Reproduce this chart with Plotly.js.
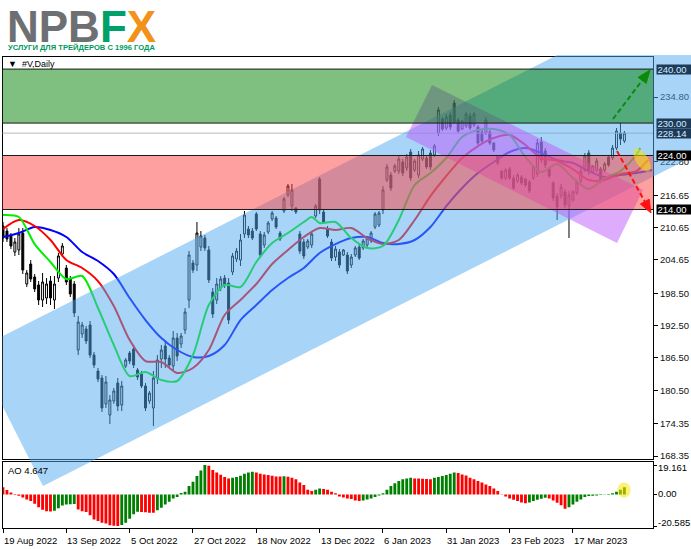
<!DOCTYPE html>
<html><head><meta charset="utf-8">
<script src="https://cdn.plot.ly/plotly-3.0.1.min.js"></script>
<style>html,body{margin:0;padding:0;background:#fff}</style>
</head><body><div id="chart" style="width:691px;height:549px"></div>
<script>
const W = 691, H = 549;

// ---- data ----
const tickIdx = [0, 16, 32, 48, 64, 80, 96, 112, 128, 144];
const tickLabels = ['19 Aug 2022','13 Sep 2022','5 Oct 2022','27 Oct 2022','18 Nov 2022','13 Dec 2022','6 Jan 2023','31 Jan 2023','23 Feb 2023','17 Mar 2023'];

const open = [210.94,210.01,209.09,206.13,206.50,209.64,200.20,203.90,201.50,200.02,197.24,197.61,200.75,197.24,201.31,205.76,203.16,201.13,200.20,187.98,
190.94,191.87,192.61,187.05,184.09,182.79,177.98,175.94,178.53,181.87,177.79,185.02,187.42,188.16,184.28,183.53,181.31,178.53,177.24,182.79,
186.31,188.72,186.50,185.02,190.20,189.09,191.68,197.24,204.09,203.72,207.05,208.72,206.50,198.72,197.24,199.46,201.31,200.38,202.42,204.83,
204.64,209.46,210.38,210.01,213.16,209.46,207.42,209.83,212.24,212.42,209.64,213.72,216.68,214.64,214.27,209.46,207.98,207.05,207.42,212.79,
219.64,213.53,210.38,207.98,205.20,206.13,205.57,205.57,203.72,205.57,207.05,206.87,207.42,208.16,210.75,211.12,213.90,219.46,220.38,221.12,
221.12,222.79,221.68,224.64,221.31,220.38,223.35,223.53,224.46,224.09,228.16,230.75,229.09,231.49,233.71,230.57,228.90,229.46,231.31,229.64,
229.27,228.35,228.16,228.35,226.31,223.90,221.12,219.83,221.49,219.83,219.27,220.01,219.64,219.09,219.83,220.57,226.49,224.83,221.49,218.90,
216.49,216.49,217.24,214.64,215.75,217.05,219.27,221.31,224.46,220.94,221.31,221.49,221.31,223.72,223.53,225.38,228.16,226.68];
const high = [211.68,210.57,209.64,208.72,210.57,210.57,202.79,204.64,202.05,200.75,202.24,201.31,201.68,201.68,205.94,207.79,203.72,201.68,200.75,194.27,
193.16,192.42,193.35,187.61,184.65,183.35,183.16,179.65,180.94,182.79,182.24,186.50,187.79,188.91,184.65,184.09,181.87,180.38,184.09,187.05,
188.91,189.65,187.05,191.50,191.13,191.13,195.75,206.31,204.64,211.68,210.01,209.27,207.24,199.46,201.31,201.68,201.87,201.31,205.94,206.87,
209.46,213.72,210.94,210.57,213.53,210.01,209.83,211.87,213.72,212.79,210.01,216.31,218.72,218.72,214.46,210.01,208.53,208.53,210.01,215.01,
220.01,214.09,210.94,208.53,207.24,206.68,206.68,206.13,205.76,207.24,207.61,208.53,209.09,210.01,213.53,213.72,218.35,222.42,220.94,222.42,
223.90,223.35,224.27,225.20,223.35,224.83,225.57,223.90,225.01,226.12,232.97,231.12,231.68,232.05,234.27,230.94,230.57,232.05,231.86,232.05,
229.64,228.72,231.12,228.72,226.49,224.09,221.31,221.68,221.87,220.38,220.75,220.38,219.83,219.46,222.23,227.05,227.42,225.38,221.87,219.27,
217.05,218.72,217.79,217.42,217.61,219.46,221.68,224.46,225.01,222.23,223.53,221.87,222.79,224.09,225.94,229.09,230.01,228.53];
const low = [207.98,207.98,206.68,205.39,205.57,202.05,199.65,200.57,198.72,196.31,195.94,196.50,196.31,195.57,200.57,205.20,200.02,197.79,194.09,187.05,
190.20,189.09,186.50,184.65,182.05,176.50,177.24,174.27,178.01,176.68,176.68,184.65,185.39,184.65,182.42,180.94,176.68,178.01,173.90,181.68,
184.65,184.65,184.65,184.09,185.94,188.35,190.94,195.75,202.24,202.61,206.31,206.31,200.38,193.90,196.50,198.90,199.46,192.79,201.87,204.27,
203.53,208.72,208.72,208.35,210.01,205.01,206.87,209.46,211.87,210.38,208.16,213.35,216.31,213.72,213.16,205.76,204.83,206.68,206.87,212.42,
213.16,211.31,208.72,204.46,204.46,203.16,205.39,202.05,203.16,205.20,204.64,206.50,207.05,207.79,210.38,210.75,213.16,219.09,217.42,220.75,
220.57,220.20,221.12,219.27,220.94,219.83,222.98,221.49,221.31,223.72,227.61,228.53,228.72,228.72,229.83,228.16,228.72,229.09,228.72,229.27,
225.94,226.31,227.79,225.94,224.64,222.23,219.46,219.46,219.46,217.61,218.90,218.53,218.16,217.05,219.46,220.01,222.61,221.68,219.83,215.57,
212.05,215.94,214.27,208.72,215.38,216.68,218.90,220.94,220.38,220.75,220.94,218.90,220.94,221.87,223.16,225.01,225.94,226.31];
const close = [208.72,208.54,207.24,207.98,209.46,202.79,202.24,201.13,199.28,197.24,200.57,200.20,197.61,200.20,205.39,207.24,200.57,198.35,194.83,193.16,
192.61,189.65,187.05,185.20,182.61,177.24,182.05,178.72,180.38,177.61,181.31,186.13,185.94,185.20,182.98,181.31,177.24,180.01,182.79,186.13,
187.98,186.31,185.20,190.20,186.87,190.57,195.01,205.57,202.79,209.64,209.09,206.87,200.94,194.64,200.20,201.13,200.02,193.53,205.39,206.31,
208.35,212.98,209.27,208.72,210.38,205.57,209.27,211.49,213.35,210.75,208.53,215.94,218.35,217.61,213.53,206.31,205.39,208.16,209.46,214.64,
213.90,211.68,209.09,205.01,206.68,203.72,206.50,202.61,205.20,206.87,205.01,208.16,208.72,209.64,213.16,213.35,217.61,221.87,217.98,222.05,
223.35,220.75,223.72,219.83,222.98,224.09,225.20,221.87,221.87,225.75,232.42,228.90,231.12,229.27,230.20,228.53,230.38,231.68,229.09,231.68,
226.31,226.68,230.57,226.31,225.01,222.61,219.83,221.31,219.83,217.98,220.38,218.90,218.53,217.42,221.87,226.31,223.16,222.23,220.20,216.12,
214.46,218.16,214.83,216.68,217.24,219.09,221.12,223.90,221.12,222.05,222.98,219.46,222.42,222.23,225.38,228.53,227.05,228.14];

// Alligator lines (bar index, price)
const jawIdx = [0,4,8,12,16,20,24,28,32,36,40,44,48,52,56,60,64,68,72,76,80,84,88,92,96,100,104,108,112,116,120,124,128,132,136,140,144,148,152,156,160,164];
const jawVal = [208.90,209.64,210.75,210.20,208.90,206.12,204.46,202.05,197.61,193.53,190.20,187.98,186.68,186.87,188.90,193.53,196.31,199.09,201.31,203.16,205.94,207.60,208.72,208.90,207.79,207.60,208.35,210.75,214.64,217.98,220.75,222.79,224.64,225.38,224.46,223.16,222.61,221.12,220.01,220.38,220.75,221.31];
const teethIdx = [0,4,8,12,16,20,24,28,32,36,40,44,48,52,56,60,64,68,72,76,80,84,88,92,96,100,104,108,112,116,120,124,128,132,136,140,144,148,152,156,160,163];
const teethVal = [210.38,212.05,210.94,208.35,204.64,203.16,200.75,196.12,189.83,185.94,185.76,183.72,184.65,187.98,194.46,197.24,200.20,203.90,206.50,208.90,210.57,210.20,210.57,208.72,207.60,208.35,212.05,216.49,220.20,223.53,225.75,227.23,227.79,225.94,223.53,222.98,221.49,219.46,219.46,220.57,221.12,223.16];
const lipsIdx = [0,4,8,12,16,20,24,28,32,36,40,44,48,52,56,60,64,68,72,76,78,80,84,88,92,96,100,104,108,112,116,120,124,128,132,136,140,144,148,152,156,160,161];
const lipsVal = [212.98,212.61,207.60,204.27,201.12,201.68,195.75,188.90,183.16,183.90,182.42,182.24,187.05,196.31,200.02,199.64,204.27,207.79,209.64,211.68,212.61,211.49,211.68,208.72,206.87,207.24,212.05,218.53,220.75,223.53,227.42,228.72,228.90,227.79,223.72,220.94,222.42,219.83,217.79,219.83,221.12,224.09,225.38];

// Awesome Oscillator
const ao = [4.6,2.8,1.3,0.2,-0.9,-2.0,-3.3,-4.3,-6.1,-8.3,-10.0,-10.9,-11.1,-10.7,-9.1,-7.2,-6.5,-6.4,-6.3,-9.8,
-10.9,-11.5,-13.5,-16.3,-17.4,-18.5,-18.9,-20.1,-20.4,-20.585,-20.0,-18.5,-15.9,-13.0,-11.3,-11.4,-11.6,-11.9,-12.0,-10.4,
-8.7,-6.5,-4.8,-2.6,-1.7,0.9,1.7,5.4,8.3,12.0,15.5,19.161,18.6,15.9,14.3,12.8,11.3,10.3,10.8,11.3,
12.1,13.4,14.3,14.8,14.3,13.5,13.0,12.6,12.2,11.7,11.6,11.9,11.5,10.9,9.8,7.8,6.1,3.0,2.2,3.0,
3.9,3.5,3.0,1.7,0.7,-1.3,-2.0,-2.6,-3.0,-3.9,-4.3,-3.9,-3.3,-2.6,-1.7,-0.7,0.7,3.0,5.4,7.2,
8.7,9.8,10.4,10.9,10.4,10.3,10.2,10.0,9.8,10.9,11.3,12.0,12.6,13.5,14.3,13.9,13.0,12.4,10.9,9.8,
8.7,7.8,6.5,5.4,3.9,2.2,-0.2,-1.3,-2.6,-3.5,-4.3,-5.2,-5.7,-5.2,-4.3,-3.5,-2.8,-2.2,-2.6,-3.9,
-5.4,-7.0,-9.3,-8.3,-6.5,-4.8,-3.3,-1.7,-1.1,-0.9,-0.7,-0.4,-0.2,0.2,0.7,1.7,3.0,4.647];
const aoLabels = [19.161, 0.00, -20.585];

const priceTicks = [168.35,174.35,180.50,186.50,192.50,198.50,204.65,210.65,216.65,222.80,234.80];
const zoneGreen = [230.00, 240.00];
const zoneRed = [214.00, 224.00];
const lastPrice = 228.14;

// ---- geometry (pixels) ----
const P = {L: 2.5, R: 653, MT: 57, MB: 459, AT: 462, AB: 528};
const fx = px => px / W, fy = py => 1 - py / H;
const barPx = 3.958, bar0 = 3;          // bar spacing / first bar position
const pxPerUnit = 5.4, refPrice = 168.35, refY = 456;
const priceAt = y => refPrice + (refY - y) / pxPerUnit;
const aoTop = 21.116, aoBot = -21.888;

const FONT = 'Liberation Sans, Arial, sans-serif';
const idx = open.map((_, i) => i);
const aoColors = ao.map((v, i) => (i > 0 && v > ao[i - 1]) ? '#008000' : '#ff0000');

const traces = [
  {type: 'candlestick', x: idx, open, high, low, close, xaxis: 'x', yaxis: 'y',
   increasing: {line: {color: '#000', width: 1}, fillcolor: '#ffffff'},
   decreasing: {line: {color: '#000', width: 1}, fillcolor: '#000000'},
   whiskerwidth: 0, hoverinfo: 'skip'},
  {type: 'scatter', mode: 'lines', x: jawIdx, y: jawVal, xaxis: 'x', yaxis: 'y',
   line: {color: '#0000ff', width: 2, shape: 'spline', smoothing: 0.8}, hoverinfo: 'skip'},
  {type: 'scatter', mode: 'lines', x: teethIdx, y: teethVal, xaxis: 'x', yaxis: 'y',
   line: {color: '#ff0000', width: 2, shape: 'spline', smoothing: 0.8}, hoverinfo: 'skip'},
  {type: 'scatter', mode: 'lines', x: lipsIdx, y: lipsVal, xaxis: 'x', yaxis: 'y',
   line: {color: '#00ee00', width: 2, shape: 'spline', smoothing: 0.8}, hoverinfo: 'skip'},
  {type: 'bar', x: idx, y: ao, xaxis: 'x2', yaxis: 'y2', width: 0.72,
   marker: {color: aoColors, line: {width: 0}}, hoverinfo: 'skip'}
];

// ---- overlay helpers ----
function poly(pts) { return pts.map((p, k) => (k ? 'L' : 'M') + fx(p[0]) + ',' + fy(p[1])).join('') + 'Z'; }
function ellipse(cx, cy, rx, ry, ang) {
  const a = ang * Math.PI / 180, pts = [];
  for (let k = 0; k < 40; k++) {
    const t = k / 40 * 2 * Math.PI;
    pts.push([cx + rx * Math.cos(t) * Math.cos(a) - ry * Math.sin(t) * Math.sin(a),
              cy + rx * Math.cos(t) * Math.sin(a) + ry * Math.sin(t) * Math.cos(a)]);
  }
  return poly(pts);
}
function arrow(x0, y0, x1, y1, color) {
  const dx = x1 - x0, dy = y1 - y0, L = Math.hypot(dx, dy), ux = dx / L, uy = dy / L, hl = 13, hw = 5;
  const bx = x1 - ux * hl, by = y1 - uy * hl;
  return [
    {type: 'line', xref: 'paper', yref: 'paper', x0: fx(x0), y0: fy(y0), x1: fx(bx), y1: fy(by),
     line: {color, width: 2, dash: '5px,3px'}},
    {type: 'path', xref: 'paper', yref: 'paper', fillcolor: color, line: {color, width: 1},
     path: poly([[x1, y1], [bx - uy * hw, by + ux * hw], [bx + uy * hw, by - ux * hw]])}
  ];
}
const up = x => 336 - 0.507 * (x - 3);
const lo = x => 486 - 0.507 * (x - 43);
const capY = x => 486 - (43 - x) / 0.507;

const hline = (v, color) => ({type: 'line', xref: 'x domain', yref: 'y', x0: 0, x1: 1, y0: v, y1: v, line: {color, width: 1}});

const shapes = [
  hline(lastPrice, '#b8b8b8'),
  {type: 'path', xref: 'paper', yref: 'paper', fillcolor: 'rgb(80,170,240)', opacity: 0.5, line: {width: 0},
   path: poly([[P.L, up(P.L)], [3 + (336 - 55) / 0.507, 55], [W, 55], [W, lo(W)], [43, 486], [P.L, capY(P.L)]])},
  {type: 'path', xref: 'paper', yref: 'paper', fillcolor: 'rgb(190,90,250)', opacity: 0.5, line: {width: 0},
   path: poly([[432, 85], [643, 190], [617, 243], [406, 137]])},
  {type: 'rect', xref: 'x domain', yref: 'y', x0: 0, x1: 1, y0: zoneGreen[0], y1: zoneGreen[1],
   fillcolor: 'rgb(0,128,0)', opacity: 0.5, line: {width: 0}},
  {type: 'rect', xref: 'x domain', yref: 'y', x0: 0, x1: 1, y0: zoneRed[0], y1: zoneRed[1],
   fillcolor: 'rgb(255,65,65)', opacity: 0.5, line: {width: 0}},
  hline(zoneGreen[1], '#1a1a1a'), hline(zoneGreen[0], '#1a1a1a'),
  hline(zoneRed[1], '#1a1a1a'), hline(zoneRed[0], '#1a1a1a'),
  {type: 'path', xref: 'paper', yref: 'paper', fillcolor: 'rgb(255,225,0)', opacity: 0.55, line: {width: 0},
   path: ellipse(642, 160, 13, 6, 58)},
  {type: 'path', xref: 'paper', yref: 'paper', fillcolor: 'rgb(255,225,0)', opacity: 0.55, line: {width: 0},
   path: ellipse(624, 490, 6.5, 7.5, 0)},
  ...arrow(613, 119, 650, 70, '#0a8a0a'),
  ...arrow(617, 151, 651, 213, '#ff1010')
];

// ---- annotations ----
const ann = [];
ann.push({xref: 'paper', yref: 'paper', x: fx(5), y: fy(26), xanchor: 'left', yanchor: 'middle', showarrow: false,
  text: '<b><span style="color:#6e6f72">NPB</span><span style="color:#00a06a">F</span><span style="color:#f39219">X</span></b>',
  font: {family: FONT, size: 44}});
ann.push({xref: 'paper', yref: 'paper', x: fx(6), y: fy(47.5), xanchor: 'left', yanchor: 'middle', showarrow: false,
  text: '<b>УСЛУГИ ДЛЯ ТРЕЙДЕРОВ С 1996 ГОДА</b>',
  font: {family: FONT, size: 7.6, color: '#00995c'}});
ann.push({xref: 'paper', yref: 'paper', x: fx(6), y: fy(64), xanchor: 'left', yanchor: 'middle', showarrow: false,
  text: '▼  #V,Daily', font: {family: FONT, size: 9, color: '#000'}});
ann.push({xref: 'paper', yref: 'paper', x: fx(6), y: fy(470), xanchor: 'left', yanchor: 'middle', showarrow: false,
  text: 'AO 4.647', font: {family: FONT, size: 9.5, color: '#000'}});
tickIdx.forEach((t, k) => ann.push({xref: 'x2', yref: 'paper', x: t, y: fy(540), xanchor: 'left', yanchor: 'middle',
  showarrow: false, xshift: -1, text: tickLabels[k], font: {family: FONT, size: 9.5, color: '#000'}}));
const aoLabelY = [468, 493.5, 522];
aoLabels.forEach((v, k) => ann.push({xref: 'paper', yref: 'paper', x: fx(656), y: fy(aoLabelY[k]), xanchor: 'left', yanchor: 'middle',
  showarrow: false, text: v === 0 ? '0.00' : String(v), font: {family: FONT, size: 9.5, color: '#000'}}));
const boxes = [[240.00, '#1d3b58', '#d6eaff'], [230.00, '#1d3b58', '#d6eaff'], [lastPrice, '#1d3b58', '#d6eaff'],
               [224.00, '#000000', '#ffffff'], [214.00, '#000000', '#ffffff']];
boxes.forEach(b => ann.push({xref: 'paper', yref: 'y', x: fx(655.5), y: b[0], xanchor: 'left', yanchor: 'middle',
  showarrow: false, text: b[0].toFixed(2), bgcolor: b[1], width: 33, height: 8, align: 'left', borderpad: 0.5,
  font: {family: FONT, size: 9.5, color: b[2]}}));

const layout = {
  width: W, height: H, margin: {l: 0, r: 0, t: 0, b: 0},
  paper_bgcolor: '#fff', plot_bgcolor: '#fff', showlegend: false, hovermode: false, dragmode: false,
  xaxis: {domain: [fx(P.L), fx(P.R)], range: [(P.L - bar0) / barPx, (P.R - bar0) / barPx], anchor: 'y',
    rangeslider: {visible: false}, showgrid: false, zeroline: false, showticklabels: false, ticks: '',
    showline: true, mirror: true, linecolor: '#000', linewidth: 1},
  yaxis: {domain: [fy(P.MB), fy(P.MT)], range: [priceAt(P.MB), priceAt(P.MT)], side: 'right', anchor: 'x',
    tickvals: priceTicks, ticktext: priceTicks.map(v => v.toFixed(2)), ticks: 'outside', ticklen: 4, tickcolor: '#000',
    tickfont: {family: FONT, size: 9.5, color: '#111'}, showgrid: false, zeroline: false,
    showline: true, mirror: true, linecolor: '#000', linewidth: 1},
  xaxis2: {domain: [fx(P.L), fx(P.R)], range: [(P.L - bar0) / barPx, (P.R - bar0) / barPx], anchor: 'y2',
    tickvals: tickIdx, ticks: 'outside', ticklen: 4, tickcolor: '#000', showticklabels: false,
    showgrid: false, zeroline: false, showline: true, mirror: true, linecolor: '#000', linewidth: 1},
  yaxis2: {domain: [fy(P.AB), fy(P.AT)], range: [aoBot, aoTop], side: 'right', anchor: 'x2',
    tickvals: aoLabels, ticks: 'outside', ticklen: 3, tickcolor: '#000', showticklabels: false,
    showgrid: false, zeroline: false, showline: true, mirror: true, linecolor: '#000', linewidth: 1},
  bargap: 0.28,
  shapes, annotations: ann
};

Plotly.newPlot('chart', traces, layout, {staticPlot: true, displayModeBar: false});
</script></body></html>
